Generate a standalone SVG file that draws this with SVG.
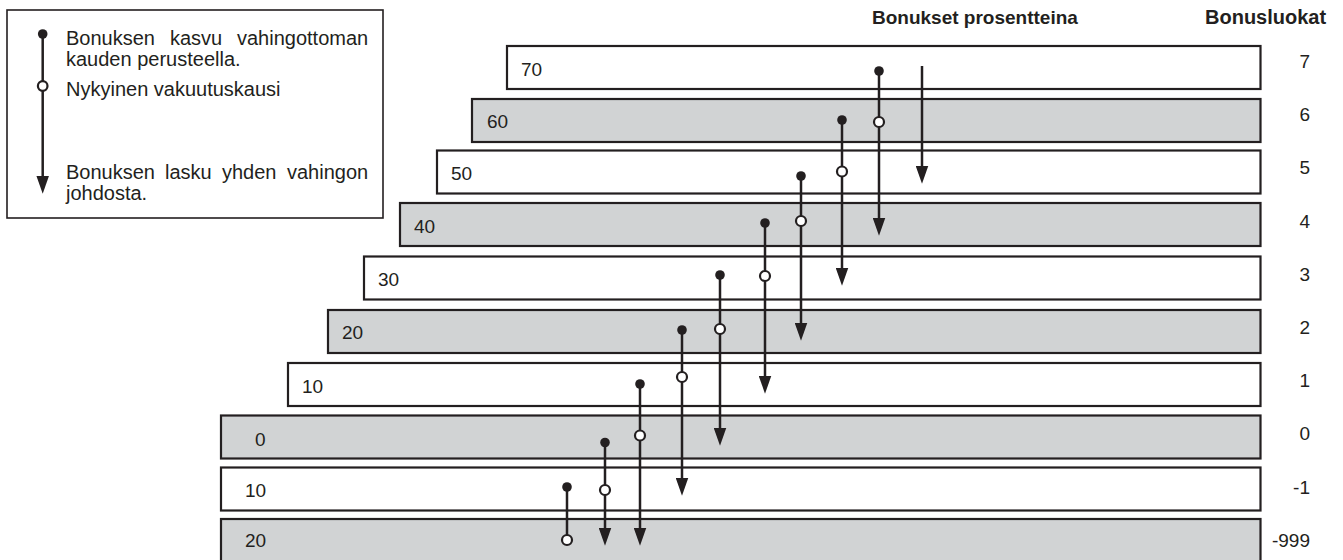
<svg xmlns="http://www.w3.org/2000/svg" width="1343" height="560" viewBox="0 0 1343 560">
<style>
text{font-family:"Liberation Sans",Arial,sans-serif;font-size:19px;fill:#231f20}
.hdr{font-weight:bold}
.lg{font-size:20px}
.rw{fill:#ffffff;stroke:#231f20;stroke-width:2.2}
.rg{fill:#d1d3d4;stroke:#231f20;stroke-width:2.2}
.ln{stroke:#231f20;stroke-width:2.5;fill:none}
.ar{stroke:#231f20;stroke-width:2.5;fill:none;marker-end:url(#ah)}
.dot{fill:#231f20}
.ring{fill:#ffffff;stroke:#231f20;stroke-width:2.2}
.lr{text-anchor:end}
</style>
<defs>
<marker id="ah" markerUnits="userSpaceOnUse" markerWidth="18" markerHeight="13" viewBox="0 0 17 12" refX="5" refY="6" orient="auto">
<path d="M0,0 L17,6 L0,12 z" fill="#231f20"/>
</marker>
</defs>
<rect width="1343" height="560" fill="#ffffff"/>

<g id="legend">
<rect x="7" y="10" width="376" height="208" fill="#ffffff" stroke="#231f20" stroke-width="1.6"/>
<line class="ar" x1="42.7" y1="34" x2="42.7" y2="181"/>
<circle class="dot" cx="42.7" cy="34" r="4.8"/>
<circle class="ring" cx="42.7" cy="86" r="4.8"/>
<text class="lg" y="45"><tspan x="66">Bonuksen</tspan><tspan x="170">kasvu</tspan><tspan x="237">vahingottoman</tspan></text>
<text class="lg" x="66" y="66">kauden perusteella.</text>
<text class="lg" x="66" y="96">Nykyinen vakuutuskausi</text>
<text class="lg" y="179"><tspan x="66">Bonuksen</tspan><tspan x="165">lasku</tspan><tspan x="222">yhden</tspan><tspan x="287">vahingon</tspan></text>
<text class="lg" x="66" y="200">johdosta.</text>
</g>

<g id="headers">
<text class="hdr" x="872" y="24">Bonukset prosentteina</text>
<text class="hdr" x="1205" y="24" style="font-size:20px">Bonusluokat</text>
</g>

<g id="row-7"><rect class="rw" x="507" y="46" width="753.5" height="43"/><text x="521" y="75.5">70</text><text class="lr" x="1310" y="68">7</text></g>
<g id="row-6"><rect class="rg" x="472" y="99" width="788.5" height="43"/><text x="487" y="128">60</text><text class="lr" x="1310" y="121.2">6</text></g>
<g id="row-5"><rect class="rw" x="437" y="150.5" width="823.5" height="43"/><text x="451" y="179.5">50</text><text class="lr" x="1310" y="174.4">5</text></g>
<g id="row-4"><rect class="rg" x="400" y="203" width="860.5" height="43"/><text x="414" y="232.5">40</text><text class="lr" x="1310" y="227.6">4</text></g>
<g id="row-3"><rect class="rw" x="364" y="256.5" width="896.5" height="43"/><text x="378" y="285.5">30</text><text class="lr" x="1310" y="280.8">3</text></g>
<g id="row-2"><rect class="rg" x="328" y="310" width="932.5" height="43"/><text x="342" y="339">20</text><text class="lr" x="1310" y="334">2</text></g>
<g id="row-1"><rect class="rw" x="288" y="363" width="972.5" height="43"/><text x="302" y="392.5">10</text><text class="lr" x="1310" y="387.2">1</text></g>
<g id="row-0"><rect class="rg" x="221" y="415.5" width="1039.5" height="43"/><text x="255" y="446">0</text><text class="lr" x="1310" y="440.4">0</text></g>
<g id="row-m1"><rect class="rw" x="221" y="467.5" width="1039.5" height="43"/><text x="245" y="496.5">10</text><text class="lr" x="1310" y="493.6">-1</text></g>
<g id="row-m999"><rect class="rg" x="221" y="519" width="1039.5" height="43"/><text x="245" y="547">20</text><text class="lr" x="1310" y="546.8">-999</text></g>

<g id="connectors">
<line class="ar" x1="879" y1="71" x2="879" y2="223"/>
<line class="ar" x1="922" y1="66" x2="922" y2="171"/>
<line class="ar" x1="842" y1="120" x2="842" y2="273"/>
<line class="ar" x1="801" y1="176" x2="801" y2="328"/>
<line class="ar" x1="765" y1="223" x2="765" y2="381"/>
<line class="ar" x1="720" y1="275" x2="720" y2="433"/>
<line class="ar" x1="682" y1="330" x2="682" y2="483"/>
<line class="ar" x1="640" y1="384" x2="640" y2="533"/>
<line class="ar" x1="605" y1="442.5" x2="605" y2="533"/>
<line class="ln" x1="567" y1="487" x2="567" y2="540"/>
<circle class="dot" cx="879" cy="71" r="4.8"/><circle class="ring" cx="879" cy="122" r="5"/>
<circle class="dot" cx="842" cy="120" r="4.8"/><circle class="ring" cx="842" cy="171.5" r="5"/>
<circle class="dot" cx="801" cy="176" r="4.8"/><circle class="ring" cx="801" cy="221" r="5"/>
<circle class="dot" cx="765" cy="223" r="4.8"/><circle class="ring" cx="765" cy="276" r="5"/>
<circle class="dot" cx="720" cy="275" r="4.8"/><circle class="ring" cx="720" cy="329" r="5"/>
<circle class="dot" cx="682" cy="330" r="4.8"/><circle class="ring" cx="682" cy="377" r="5"/>
<circle class="dot" cx="640" cy="384" r="4.8"/><circle class="ring" cx="640" cy="435.5" r="5"/>
<circle class="dot" cx="605" cy="442.5" r="4.8"/><circle class="ring" cx="605" cy="490" r="5"/>
<circle class="dot" cx="567" cy="487" r="4.8"/><circle class="ring" cx="567" cy="540" r="5"/>
</g>
</svg>
